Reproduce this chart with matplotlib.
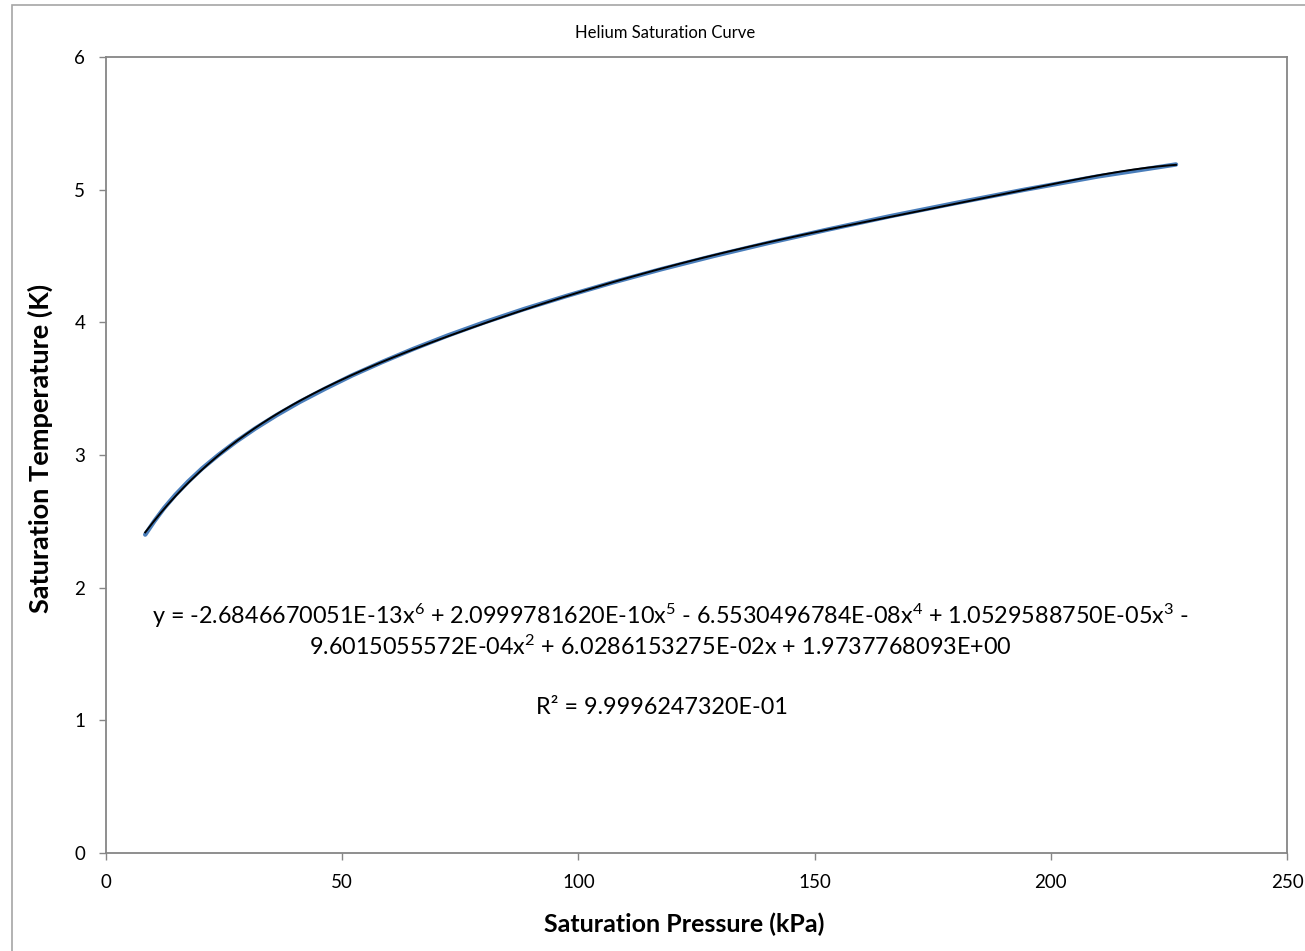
import numpy as np
import matplotlib
matplotlib.use('Agg')
from matplotlib import pyplot as plt
from matplotlib import rc
from matplotlib.patches import Rectangle

rc('font', family=['Lato', 'DejaVu Sans'])
rc('mathtext', fontset='custom', rm='Lato', it='Lato', bf='Lato:bold')

# helium saturation data
pressure_kpa = [8.3, 10.2, 12.3, 14.7, 17.4, 20.4, 23.8, 27.5, 31.6, 36.1, 41.0,
                46.4, 52.1, 58.4, 65.1, 72.3, 80.1, 88.5, 97.6, 107.2, 117.5,
                128.6, 140.4, 152.9, 166.0, 180.0, 194.5, 210.0, 226.5]
temp_k = [2.40, 2.50, 2.60, 2.70, 2.80, 2.90, 3.00, 3.10, 3.20, 3.30, 3.40,
          3.50, 3.60, 3.70, 3.80, 3.90, 4.00, 4.10, 4.20, 4.30, 4.40,
          4.50, 4.60, 4.70, 4.80, 4.90, 5.00, 5.10, 5.19]

x_ticks = [0, 50, 100, 150, 200, 250]
y_ticks = [0, 1, 2, 3, 4, 5, 6]

eq_line1 = (r'y = -2.6846670051E-13x$^{6}$ + 2.0999781620E-10x$^{5}$ - '
            r'6.5530496784E-08x$^{4}$ + 1.0529588750E-05x$^{3}$ -')
eq_line2 = r'9.6015055572E-04x$^{2}$ + 6.0286153275E-02x + 1.9737768093E+00'
r2_text = 'R² = 9.9996247320E-01'

W, H = 1305, 951
fig = plt.figure(figsize=(W / 100, H / 100), dpi=100)
ax = fig.add_axes([106 / W, 1 - 853 / H, (1287 - 106) / W, (853 - 57) / H])

# outer chart border (cut off at right/bottom in the original)
fig.patches.append(Rectangle((12 / W, -0.02), 1.2, 1 - 5 / H + 0.02,
                             transform=fig.transFigure, fill=False,
                             edgecolor='#a6a6a6', lw=1.2))

p = np.array(pressure_kpa)
t = np.array(temp_k)
ax.plot(p, t, color='#4a7ebb', lw=3.2, solid_capstyle='round', zorder=2)

fit = np.polynomial.Polynomial.fit(p, t, 6)
xs = np.linspace(p.min(), p.max(), 400)
ax.plot(xs, fit(xs), color='black', lw=1.4, zorder=3)

ax.set_xlim(0, 250)
ax.set_ylim(0, 6)
ax.set_xticks(x_ticks)
ax.set_yticks(y_ticks)
for s in ax.spines.values():
    s.set_color('#868686')
    s.set_linewidth(1.3)
ax.tick_params(direction='out', length=5, width=1, color='#868686',
               labelsize=13.5, pad=10)

fig.text(665 / W, 1 - 33 / H, 'Helium Saturation Curve', fontsize=12,
         ha='center', va='center')
fig.text(684 / W, 1 - 924 / H, 'Saturation Pressure (kPa)', fontsize=18,
         fontweight='bold', ha='center', va='center')
fig.text(40 / W, 1 - 448 / H, 'Saturation Temperature (K)', fontsize=19.5,
         fontweight='bold', ha='center', va='center', rotation=90)

fig.text(670 / W, 1 - 616 / H, eq_line1, fontsize=16.8, ha='center', va='center')
fig.text(660 / W, 1 - 647 / H, eq_line2, fontsize=16.8, ha='center', va='center')
fig.text(662 / W, 1 - 707 / H, r2_text, fontsize=16.8, ha='center', va='center')

fig.savefig('out.png', dpi=100)
